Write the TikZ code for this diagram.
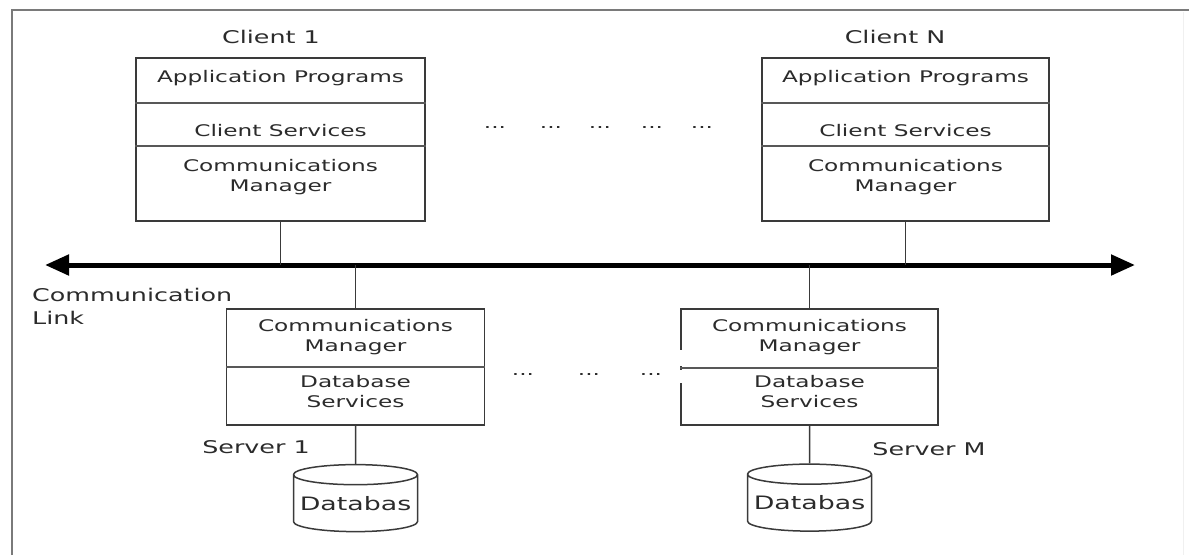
\documentclass[tikz,border=0pt]{standalone}
\usepackage{fontspec}
\setmainfont{DejaVu Sans}[FakeStretch=1.45]
\usetikzlibrary{arrows.meta,shapes.geometric}
\definecolor{txt}{HTML}{2B2B2B}
\definecolor{ln}{HTML}{3A3A3A}
\definecolor{framec}{HTML}{7A7A7A}
\begin{document}
\begin{tikzpicture}[x=1pt,y=-1pt,
  every node/.style={text=txt, font=\fontsize{16}{20}\selectfont, inner sep=0pt},
  box/.style={draw=ln, line width=1.5pt, rectangle, inner sep=0pt},
  lbl/.style={align=center},
  outer/.style={font=\fontsize{17.5}{23}\selectfont},
  divider/.style={draw=ln!85, line width=1.2pt},
  conn/.style={draw=ln, line width=1.5pt},
  dbcyl/.style={cylinder, shape border rotate=90, draw=ln, line width=1.5pt, aspect=0.18, minimum width=124pt, minimum height=67pt, font=\fontsize{18.5}{22}\selectfont},
  dots/.style={anchor=base}]

\useasboundingbox (0,0) rectangle (1189,555);
\draw[framec, line width=2pt] (12,555) -- (12,10) -- (1189,10);
\draw[gray!12, line width=1pt] (1183,12) -- (1183,555);

% Client 1
\node[box, minimum width=289pt, minimum height=163pt] (c1) at (280.5,139.5) {};
\draw[divider] (c1.west |- 0,103) -- (c1.east |- 0,103);
\draw[divider] (c1.west |- 0,146) -- (c1.east |- 0,146);
\node (c1ap) at (280.5,78) {Application Programs};
\node (c1cs) at (280.5,131) {Client Services};
\node[lbl] (c1cm) at (280.5,177) {Communications\\Manager};
\node[outer] (c1t) at (271,37) {Client 1};

% Client N
\node[box, minimum width=287pt, minimum height=163pt] (cN) at (905.5,139.5) {};
\draw[divider] (cN.west |- 0,103) -- (cN.east |- 0,103);
\draw[divider] (cN.west |- 0,146) -- (cN.east |- 0,146);
\node (cNap) at (905.5,78) {Application Programs};
\node (cNcs) at (905.5,131) {Client Services};
\node[lbl] (cNcm) at (905.5,177) {Communications\\Manager};
\node[outer] (cNt) at (895,37) {Client N};

% dots between clients
\node[dots] (d1a) at (495,128) {...};
\node[dots] (d1b) at (551,128) {...};
\node[dots] (d1c) at (600,128) {...};
\node[dots] (d1d) at (652,128) {...};
\node[dots] (d1e) at (702,128) {...};

% Communication link
\coordinate (La) at (45,265);
\coordinate (Ra) at (1135,265);
\draw[line width=5pt, {Triangle[length=24pt,width=20pt]}-{Triangle[length=24pt,width=20pt]}] (La) -- (Ra);
\node[outer, align=left, anchor=west] (cl) at (32,306) {Communication\\Link};

% Server 1
\node[box, minimum width=258pt, minimum height=116pt] (s1) at (355.5,367) {};
\draw[divider] (s1.west |- 0,367) -- (s1.east |- 0,367);
\node[lbl] (s1cm) at (355.5,337) {Communications\\Manager};
\node[lbl] (s1ds) at (355.5,392) {Database\\Services};
\node[outer] (s1t) at (256,447) {Server 1};

% Server M
\node[box, minimum width=257pt, minimum height=116pt] (sM) at (809.5,367) {};
\draw[white, line width=3pt] (sM.west |- 0,350) -- (sM.west |- 0,366.3);
\draw[white, line width=3pt] (sM.west |- 0,369.7) -- (sM.west |- 0,383);
\draw[divider] (sM.west |- 0,368) -- (sM.east |- 0,368);
\node[lbl] (sMcm) at (809.5,337) {Communications\\Manager};
\node[lbl] (sMds) at (809.5,392) {Database\\Services};
\node[outer] (sMt) at (929,449) {Server M};

% dots between servers
\node[dots] (d2a) at (523,375) {...};
\node[dots] (d2b) at (589,375) {...};
\node[dots] (d2c) at (651,375) {...};

% Databases
\node[dbcyl] (db1) at (355.5,503.5) {Databas};
\node[dbcyl] (dbM) at (809.5,503) {Databas};

% connectors
\draw[conn] (c1.south) -- (c1.south |- La);
\draw[conn] (cN.south) -- (cN.south |- La);
\draw[conn] (s1.north) -- (s1.north |- La);
\draw[conn] (sM.north) -- (sM.north |- La);
\draw[conn] (s1.south) -- (db1.north);
\draw[conn] (sM.south) -- (dbM.north);
\end{tikzpicture}
\end{document}
